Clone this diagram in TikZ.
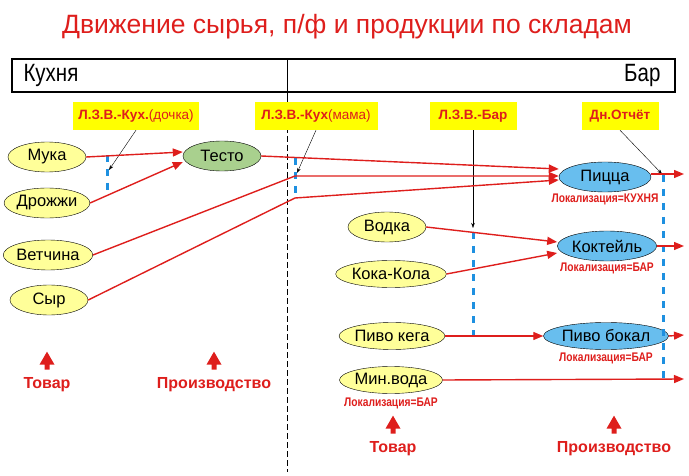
\documentclass[tikz,border=0pt]{standalone}
\usepackage{fontspec}
\setmainfont{Liberation Sans}
\newfontfamily\narrowfont{Liberation Sans}[FakeStretch=0.82]
\usepackage{xcolor}
\usetikzlibrary{positioning,arrows.meta,shapes.geometric}

\definecolor{kred}{RGB}{222,30,28}
\definecolor{rawfill}{RGB}{255,255,153}
\definecolor{semifill}{RGB}{169,208,142}
\definecolor{prodfill}{RGB}{104,190,238}
\definecolor{docyellow}{RGB}{255,255,0}
\definecolor{batchblue}{RGB}{30,144,224}

\begin{document}
\begin{tikzpicture}[x=1pt, y=-1pt, node distance=2pt]
            \tikzstyle{raw} = [ellipse, draw=black, fill=rawfill, minimum width=78pt, minimum height=30pt, inner sep=0pt, font=\fontsize{16.5}{18}\selectfont];
            \tikzstyle{small} = [minimum height=27pt];
            \tikzstyle{semi} = [raw, fill=semifill];
            \tikzstyle{prod} = [raw, fill=prodfill, minimum width=92pt];
            \tikzstyle{doc} = [fill=docyellow, text=kred, inner xsep=4pt, minimum height=28pt, font=\bfseries\fontsize{13.5}{15}\selectfont];
            \tikzstyle{loc} = [text=kred, inner sep=0pt, font=\narrowfont\bfseries\fontsize{12.5}{14}\selectfont];
            \tikzstyle{kind} = [text=kred, inner sep=0pt, font=\bfseries\fontsize{16}{18}\selectfont];
            \tikzstyle{flow} = [draw=kred, line width=1.4pt, -{Triangle[length=10pt, width=8pt]}];
            \tikzstyle{batch} = [draw=batchblue, line width=3pt, dash pattern=on 7pt off 7pt];
            \tikzstyle{hint} = [draw=black, line width=0.4pt, -{Stealth[length=5pt, width=3.5pt]}];

            \useasboundingbox (0,0) rectangle (689,476);

            \node [text=kred, font=\fontsize{26.5}{30}\selectfont] (title) at (347,27) {Движение сырья, п/ф и продукции по складам};

            % header
            \draw [line width=1.6pt] (12,59) rectangle (675,92);
            \node [font=\narrowfont\fontsize{25}{28}\selectfont, anchor=west] (kitchen) at (20,75) {Кухня};
            \node [font=\narrowfont\fontsize{25}{28}\selectfont, anchor=east] (bar) at (664,75) {Бар};
            \draw (287,59) -- (287,100);
            \draw [dash pattern=on 6pt off 3pt] (287,100) -- (287,472);

            % documents
            \node [doc, minimum width=126pt] (lzvk1) at (136,116) {Л.З.В.-Кух.{\mdseries(дочка)}};
            \node [doc, minimum width=123pt] (lzvk2) at (316,116) {Л.З.В.-Кух{\mdseries(мама)}};
            \node [doc, minimum width=87pt] (lzvb) at (473,116) {Л.З.В.-Бар};
            \node [doc, minimum width=77pt] (report) at (620,116) {Дн.Отчёт};

            % kitchen
            \node [raw] (muka) at (47,157) {Мука};
            \node [raw] (drozh) at (47,203) {Дрожжи};
            \node [raw] (vetch) at (48,255) {Ветчина};
            \node [raw] (syr) at (49,300) {Сыр};
            \node [semi] (testo) at (222,156) {Тесто};
            \node [prod] (pizza) at (605,177) {Пицца};
            \node [loc, below = of pizza] (locpizza) {Локализация=КУХНЯ};

            % bar
            \node [raw] (vodka) at (387,227) {Водка};
            \node [raw, small, minimum width=92pt] (cola) at (391,274) {Кока-Кола};
            \node [prod] (cocktail) at (607,246) {Коктейль};
            \node [loc, below = of cocktail] (loccocktail) {Локализация=БАР};
            \node [raw, small, minimum width=94pt] (keg) at (392,336) {Пиво кега};
            \node [prod, small, minimum width=94pt] (glass) at (606,336) {Пиво бокал};
            \node [loc, below = 3pt of glass] (locglass) {Локализация=БАР};
            \node [raw, small, minimum width=96pt] (water) at (391,380) {Мин.вода};
            \node [loc, below = 4pt of water] (locwater) {Локализация=БАР};

            % batches
            \coordinate (b1a) at (107,155);
            \coordinate (b1b) at (107,197);
            \coordinate (b2a) at (295,158);
            \coordinate (b2b) at (295,200);
            \coordinate (b3a) at (473,232);
            \coordinate (b3b) at (473,337);
            \coordinate (b4a) at (663,175);
            \coordinate (b4b) at (663,380);
            \draw [batch] (b1a) -- (b1b);
            \draw [batch] (b2a) -- (b2b);
            \draw [batch] (b3a) -- (b3b);
            \draw [batch] (b4a) -- (b4b);

            \coordinate (h1) at (109,170);
            \coordinate (h2) at (297,173);
            \coordinate (h3) at (473,228);
            \coordinate (h4) at (662,174);
            \draw [hint] (lzvk1.south) -- (h1);
            \draw [hint] (lzvk2.south) -- (h2);
            \draw [hint] (lzvb.south) -- (h3);
            \draw [hint] (report.south) -- (h4);

            % flows
            \coordinate (v1) at (295,176);
            \coordinate (s1) at (295,198);
            \coordinate (out1) at (684,174);
            \coordinate (out2) at (684,246);
            \coordinate (out3) at (684,335);
            \coordinate (out4) at (684,379);
            \draw [flow] (muka.east) -- ([yshift=4pt]testo.west);
            \draw [flow] (drozh.east) -- ([yshift=-6pt]testo.west);
            \draw [flow] (testo.east) -- ([yshift=8pt]pizza.west);
            \draw [flow] (vetch.east) -- (v1) -- ([yshift=1pt]pizza.west);
            \draw [flow] (syr.east) -- (s1) -- ([yshift=-3pt]pizza.west);
            \draw [flow] (vodka.east) -- ([yshift=4pt]cocktail.west);
            \draw [flow] (cola.east) -- ([yshift=-7pt]cocktail.west);
            \draw [flow] (keg.east) -- (glass.west);
            \draw [flow] (water.east) -- (out4);
            \draw [flow] ([yshift=3pt]pizza.east) -- (out1);
            \draw [flow] (cocktail.east) -- (out2);
            \draw [flow] (glass.east) -- (out3);

            % kinds
            \node [kind] (goodsK) at (47,385) {Товар};
            \node [kind] (prodK) at (214,385) {Производство};
            \node [kind] (goodsB) at (393,449) {Товар};
            \node [kind] (prodB) at (614,449) {Производство};
            \foreach \n in {goodsK, prodK, goodsB, prodB}
                \fill [kred] ([yshift=8pt]\n.north) ++(-2.5,0) -- ++(0,-5) -- ++(-5,0) -- ++(7.5,-13) -- ++(7.5,13) -- ++(-5,0) -- ++(0,5) -- cycle;
        \end{tikzpicture}
\end{document}
